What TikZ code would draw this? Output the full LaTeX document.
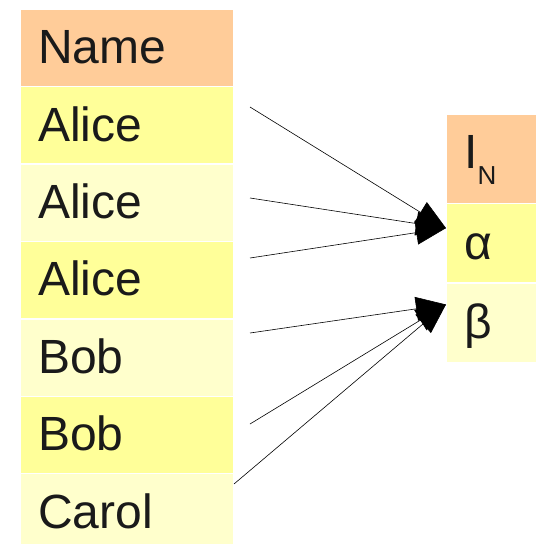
\documentclass[tikz,border=0pt]{standalone}
\usepackage{fontspec}
\setmainfont{Liberation Sans}
\usetikzlibrary{arrows.meta,positioning}

\definecolor{headcol}{RGB}{255,204,153}
\definecolor{darkrow}{RGB}{255,255,153}
\definecolor{lightrow}{RGB}{255,255,204}
\definecolor{txtcol}{RGB}{26,26,26}

\begin{document}
\begin{tikzpicture}[x=1pt,y=-1pt,
		every node/.style={font=\fontsize{48}{56}\selectfont,text=txtcol},
		cell/.style={rectangle,draw=white,line width=0.4pt,inner xsep=18pt,inner ysep=0pt,
			align=left,text height=32pt,text depth=0pt},
		name cell/.style={cell,text width=177pt,minimum height=77pt},
		key cell/.style={cell,text width=54pt,minimum height=79pt},
		link/.style={semithick,-{Triangle[length=30pt,width=24pt]}}]
		
		\useasboundingbox (0,0) rectangle (536,544);
		
		% left table
		\node[name cell,fill=headcol,anchor=north west] (head) at (20,9) {Name};
		\node[name cell,fill=darkrow,below=0pt of head] (n1) {Alice};
		\node[name cell,fill=lightrow,below=0pt of n1] (n2) {Alice};
		\node[name cell,fill=darkrow,below=0pt of n2] (n3) {Alice};
		\node[name cell,fill=lightrow,below=0pt of n3] (n4) {Bob};
		\node[name cell,fill=darkrow,below=0pt of n4] (n5) {Bob};
		\node[name cell,fill=lightrow,below=0pt of n5] (n6) {Carol};
		
		% right table
		\node[key cell,fill=headcol,minimum height=89pt,text depth=12pt,anchor=north west] (ihead) at (446,114)
		{I\raisebox{-16pt}{\fontsize{26}{26}\selectfont N}};
		\node[key cell,fill=darkrow,below=0pt of ihead] (alpha) {α};
		\node[key cell,fill=lightrow,below=0pt of alpha] (beta) {β};
		
		\coordinate (s1) at (250,107);
		\coordinate (s2) at (250,198);
		\coordinate (s3) at (250,258);
		\coordinate (s4) at (250,333);
		\coordinate (s5) at (250,424);
		\coordinate (s6) at (234,484);
		\coordinate (ta) at ([yshift=15pt]alpha.west);
		\coordinate (tb) at ([yshift=18pt]beta.west);
		
		\draw[link] (s1) -- (ta);
		\draw[link] (s2) -- (ta);
		\draw[link] (s3) -- (ta);
		\draw[link] (s4) -- (tb);
		\draw[link] (s5) -- (tb);
		\draw[link] (s6) -- (tb);
\end{tikzpicture}
\end{document}
